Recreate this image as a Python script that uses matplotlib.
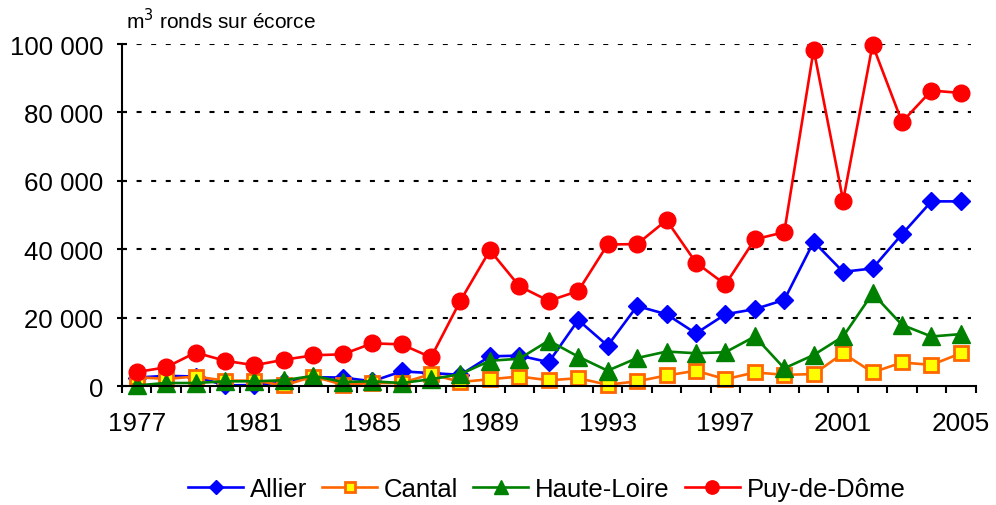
import numpy as np
import matplotlib
matplotlib.use('Agg')
import matplotlib.pyplot as plt
from matplotlib.ticker import FuncFormatter, MultipleLocator

plt.rcParams['font.family'] = ['Liberation Sans', 'DejaVu Sans']

# Values (m3 ronds sur ecorce)
years = list(range(1977, 2006))
allier = [2.5, 3.0, 2.8, 0.2, 0.3, 1.2, 2.6, 2.5, 1.4, 4.3, 3.8, 3.3, 8.7, 8.9, 7.0,
          19.3, 11.8, 23.4, 21.0, 15.4, 21.0, 22.5, 25.2, 42.2, 33.4, 34.4, 44.4, 54.0, 54.0]
cantal = [2.6, 2.1, 2.8, 1.6, 1.6, 0.2, 2.8, 0.4, 0.9, 0.9, 3.5, 1.2, 2.0, 2.8, 1.7,
          2.3, 0.4, 1.4, 3.1, 4.5, 2.0, 4.0, 3.3, 3.5, 9.6, 4.0, 6.9, 6.2, 9.6]
haute_loire = [0.2, 0.9, 0.9, 1.4, 1.4, 1.7, 3.0, 1.2, 1.4, 0.9, 2.0, 3.5, 7.4, 8.0, 13.3,
               8.6, 4.5, 8.2, 10.1, 9.6, 9.9, 14.5, 5.2, 9.1, 14.5, 27.1, 17.9, 14.5, 15.2]
puy_de_dome = [4.1, 5.5, 9.8, 7.4, 6.1, 7.7, 9.0, 9.3, 12.5, 12.2, 8.4, 25.0, 39.7, 29.2, 24.9,
               27.8, 41.4, 41.5, 48.5, 36.1, 29.7, 42.9, 45.0, 98.4, 54.2, 99.8, 77.2, 86.4, 85.7]
year_labels = [1977, 1981, 1985, 1989, 1993, 1997, 2001, 2005]

series = [
    ('Allier', allier, dict(color='#0000FF', marker='D', ms=9, mfc='#0000FF', mec='#0000FF')),
    ('Cantal', cantal, dict(color='#FF6600', marker='s', ms=9.5, mfc='#FFFF00', mec='#FF6600', mew=2)),
    ('Haute-Loire', haute_loire, dict(color='#008000', marker='^', ms=13, mfc='#008000', mec='#008000')),
    ('Puy-de-Dôme', puy_de_dome, dict(color='#FF0000', marker='o', ms=12, mfc='#FF0000', mec='#FF0000')),
]

fig = plt.figure(figsize=(9.96, 5.06), dpi=100)
ax = fig.add_axes([0.1225, 0.235, 0.857, 0.676])

for name, vals, style in series:
    ax.plot(years, np.array(vals) * 1000, lw=1.9, label=name, clip_on=False, **style)

ax.set_xlim(1976.5, 2005.5)
ax.set_ylim(0, 100000)
ax.set_xticks(year_labels)
ax.set_xticks(np.arange(1976.5, 2006, 1), minor=True)
ax.tick_params(axis='x', which='major', length=0, pad=18, labelsize=18.8)
ax.tick_params(axis='x', which='minor', length=5, width=1.5, direction='out')
ax.yaxis.set_major_locator(MultipleLocator(20000))
ax.yaxis.set_major_formatter(FuncFormatter(lambda v, p: f'{int(v):,}'.replace(',', ' ')))
ax.tick_params(axis='y', length=7, width=1.5, direction='inout', pad=10, labelsize=18.6)

for s in ['top', 'right']:
    ax.spines[s].set_visible(False)
for s in ['left', 'bottom']:
    ax.spines[s].set_linewidth(1.5)

for v in range(20000, 100001, 20000):
    ax.axhline(v, xmax=0.995, color='black', lw=1.5, ls=(0, (2.4, 4.6)), zorder=0.5)

fig.text(0.1265, 0.943, 'm$^3$ ronds sur écorce', fontsize=15, ha='left', va='baseline')

fig.legend(loc='center', bbox_to_anchor=(0.549, 0.032), ncol=4, frameon=False,
           fontsize=18.5, handlelength=2.14, handletextpad=0.27, columnspacing=0.58,
           markerscale=0.8)

fig.savefig('out.png', dpi=100)
